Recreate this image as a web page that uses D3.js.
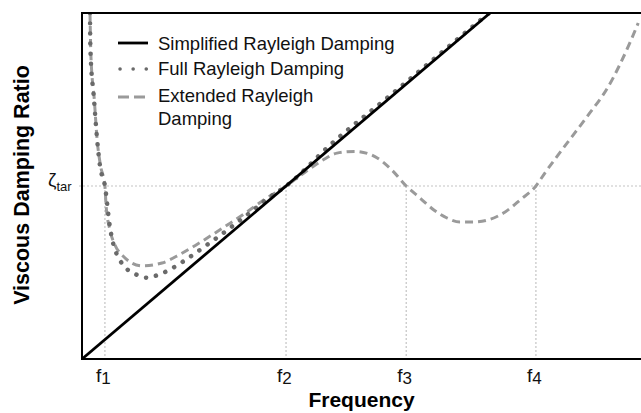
<!DOCTYPE html>
<html>
<head>
<meta charset="utf-8">
<script src="https://cdn.jsdelivr.net/npm/d3@7"></script>
<style>
    body { margin: 0; background: #fff; }
    text { font-family: "Liberation Sans", Arial, sans-serif; }
</style>
</head>
<body>
<div id="container"></div>
<script>
    'use strict';

    // values (frequency in arbitrary units, damping ratio / zeta_tar)
    const tickNames   = ['1', '2', '3', '4'];
    const tickFreqs   = [0.41, 3.65, 5.80, 8.12];
    const zetaTarget  = 1;

    const simplified = [[0, 0], [7.30, 2.0]];

    const fullRayleigh = [
        [0.143, 2.0], [0.15, 1.79], [0.215, 1.5], [0.27, 1.27], [0.32, 1.12],
        [0.41, 1.0], [0.50, 0.763], [0.555, 0.671], [0.805, 0.52], [0.984, 0.486],
        [1.163, 0.47], [1.342, 0.484], [1.52, 0.508], [1.84, 0.57], [2.15, 0.64],
        [2.43, 0.705], [2.74, 0.78], [3.04, 0.855], [3.31, 0.925], [3.65, 1.0],
        [4.5, 1.255], [5.5, 1.52], [6.5, 1.79], [7.28, 2.0]
    ];

    const extendedRayleigh = [
        [0.143, 2.0], [0.16, 1.75], [0.22, 1.5], [0.27, 1.27], [0.33, 1.12],
        [0.41, 1.0], [0.43, 0.89], [0.50, 0.746], [0.59, 0.659], [0.733, 0.595],
        [1.073, 0.538], [1.431, 0.555], [1.753, 0.605], [2.02, 0.655], [2.34, 0.72],
        [2.65, 0.785], [2.95, 0.85], [3.22, 0.912], [3.65, 1.0], [3.99, 1.08],
        [4.31, 1.15], [4.56, 1.19], [4.88, 1.20], [5.24, 1.17], [5.55, 1.09],
        [5.80, 1.0], [6.05, 0.93], [6.30, 0.86], [6.53, 0.815], [6.76, 0.792],
        [6.99, 0.792], [7.25, 0.803], [7.57, 0.85], [7.84, 0.92], [8.12, 1.0],
        [8.28, 1.075], [8.68, 1.249], [9.03, 1.399], [9.41, 1.572], [9.80, 1.827],
        [9.95, 1.942]
    ];

    const legendNames = ['Simplified Rayleigh Damping', 'Full Rayleigh Damping', 'Extended Rayleigh', 'Damping'];

    const canvas = { width: 641, height: 413 };
    const plot = { left: 82, right: 641, top: 13, bottom: 359 };

    const color = {
        simple: '#000',
        full: '#6a6a6a',
        extended: '#9a9a9a',
        guide: '#c4c4c4'
    };

    const svg = d3.select('#container')
        .append('svg')
        .attr('width', canvas.width)
        .attr('height', canvas.height);

    const x = d3.scaleLinear().domain([0, 10]).range([plot.left, plot.right]);
    const y = d3.scaleLinear().domain([0, 2]).range([plot.bottom, plot.top]);

    svg.append('clipPath').attr('id', 'clip')
        .append('rect')
        .attr('x', plot.left).attr('y', plot.top)
        .attr('width', plot.right - plot.left).attr('height', plot.bottom - plot.top);

    // guide lines
    svg.append('line')
        .attr('x1', plot.left - 3).attr('x2', plot.right)
        .attr('y1', y(zetaTarget)).attr('y2', y(zetaTarget))
        .attr('stroke', color.guide).attr('stroke-width', 1.2)
        .attr('stroke-dasharray', '2 2');

    tickFreqs.forEach(f => {
        svg.append('line')
            .attr('x1', x(f)).attr('x2', x(f))
            .attr('y1', y(zetaTarget)).attr('y2', y(0))
            .attr('stroke', color.guide).attr('stroke-width', 1.2)
            .attr('stroke-dasharray', '2 2');
    });

    const line = d3.line().x(d => x(d[0])).y(d => y(d[1])).curve(d3.curveMonotoneX);
    const g = svg.append('g').attr('clip-path', 'url(#clip)');

    g.append('path').datum(extendedRayleigh)
        .attr('d', line).attr('fill', 'none')
        .attr('stroke', color.extended).attr('stroke-width', 3)
        .attr('stroke-dasharray', '8 5');

    g.append('path').datum(fullRayleigh)
        .attr('d', line).attr('fill', 'none')
        .attr('stroke', color.full).attr('stroke-width', 4.5)
        .attr('stroke-linecap', 'round')
        .attr('stroke-dasharray', '0.1 10');

    g.append('path').datum(simplified)
        .attr('d', d3.line().x(d => x(d[0])).y(d => y(d[1])))
        .attr('fill', 'none')
        .attr('stroke', color.simple).attr('stroke-width', 2.8);

    // frame: left, top and bottom
    svg.append('path')
        .attr('d', `M${plot.right},${plot.top}H${plot.left}V${plot.bottom}H${plot.right}`)
        .attr('fill', 'none').attr('stroke', '#000').attr('stroke-width', 2);

    // legend
    const legend = svg.append('g');
    const rows = [43, 69, 97];
    legend.append('line').attr('x1', 118).attr('x2', 148).attr('y1', rows[0]).attr('y2', rows[0])
        .attr('stroke', color.simple).attr('stroke-width', 2.8);
    legend.append('line').attr('x1', 120).attr('x2', 148).attr('y1', rows[1]).attr('y2', rows[1])
        .attr('stroke', color.full).attr('stroke-width', 3.5).attr('stroke-linecap', 'round')
        .attr('stroke-dasharray', '0.1 13');
    legend.append('line').attr('x1', 118).attr('x2', 150).attr('y1', rows[2]).attr('y2', rows[2])
        .attr('stroke', color.extended).attr('stroke-width', 3)
        .attr('stroke-dasharray', '11 5');

    const textY = [50, 75, 102, 125];
    legendNames.forEach((name, i) => {
        legend.append('text')
            .attr('x', 158).attr('y', textY[i])
            .attr('font-size', 18.5).attr('fill', '#111')
            .text(name);
    });

    // x tick labels
    tickNames.forEach((n, i) => {
        const t = svg.append('text')
            .attr('x', x(tickFreqs[i]) - 9).attr('y', 382)
            .attr('font-size', 19).attr('fill', '#111');
        t.append('tspan').text('f');
        t.append('tspan').attr('dy', 2).attr('font-size', 17).text(n);
    });

    // zeta_tar label
    const z = svg.append('text')
        .attr('x', 48).attr('y', 186)
        .attr('font-size', 19).attr('fill', '#111');
    z.append('tspan').text('\u03B6');
    z.append('tspan').attr('dy', 5).attr('font-size', 13).text('tar');

    // axis titles
    svg.append('text')
        .attr('x', (plot.left + plot.right) / 2).attr('y', 407)
        .attr('text-anchor', 'middle')
        .attr('font-size', 21).attr('font-weight', 'bold')
        .text('Frequency');

    svg.append('text')
        .attr('transform', 'translate(29,185) rotate(-90)')
        .attr('text-anchor', 'middle')
        .attr('font-size', 21.5).attr('font-weight', 'bold')
        .text('Viscous Damping Ratio');
</script>
</body>
</html>
